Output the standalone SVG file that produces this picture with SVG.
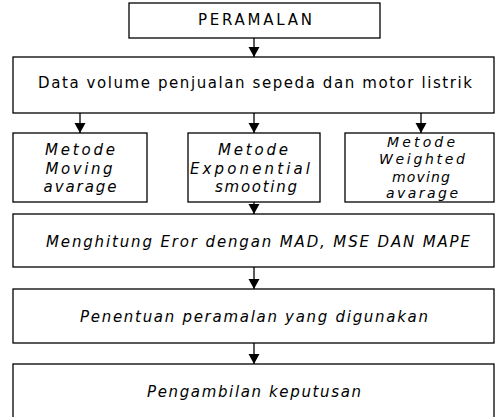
<svg xmlns="http://www.w3.org/2000/svg" width="496" height="417" viewBox="0 0 496 417">
<style>
rect.box{fill:#fff;stroke:#000;stroke-width:1.3}
text{font-family:"DejaVu Sans","Liberation Sans",sans-serif;font-size:15px;fill:#000;text-anchor:middle}
text.i{font-style:italic}
text.s{font-size:14px}
line.c{stroke:#000;stroke-width:1.3;marker-end:url(#ah)}
</style>
<defs>
<marker id="ah" markerUnits="userSpaceOnUse" markerWidth="12" markerHeight="12" refX="10" refY="6" orient="auto">
<path d="M0,0.5 L10,6 L0,11.5 Z" fill="#000"/>
</marker>
</defs>
<rect width="496" height="417" fill="#fff"/>
<g id="connectors">
<line class="c" x1="254" y1="38" x2="254" y2="57"/>
<line class="c" x1="80" y1="113" x2="80" y2="133"/>
<line class="c" x1="254" y1="113" x2="254" y2="133"/>
<line class="c" x1="421" y1="113" x2="421" y2="133"/>
<line class="c" x1="254" y1="202" x2="254" y2="214"/>
<line class="c" x1="254" y1="267" x2="254" y2="289"/>
<line class="c" x1="254" y1="343" x2="254" y2="364"/>
</g>
<g id="peramalan">
<rect class="box" x="129" y="3" width="251" height="35"/>
<text x="255" y="25" textLength="114" lengthAdjust="spacing">PERAMALAN</text>
</g>
<g id="data">
<rect class="box" x="13" y="57" width="481" height="56"/>
<text x="255" y="88" textLength="434" lengthAdjust="spacing">Data volume penjualan sepeda dan motor listrik</text>
</g>
<g id="moving">
<rect class="box" x="13" y="133" width="134" height="69"/>
<text class="i" x="80" y="155" textLength="70" lengthAdjust="spacing">Metode</text>
<text class="i" x="79" y="174" textLength="67" lengthAdjust="spacing">Moving</text>
<text class="i" x="80" y="192" textLength="73" lengthAdjust="spacing">avarage</text>
</g>
<g id="exponential">
<rect class="box" x="188" y="133" width="132" height="69"/>
<text class="i" x="253" y="155" textLength="70" lengthAdjust="spacing">Metode</text>
<text class="i" x="250" y="174" textLength="120" lengthAdjust="spacing">Exponential</text>
<text class="i" x="256" y="192" textLength="82" lengthAdjust="spacing">smooting</text>
</g>
<g id="weighted">
<rect class="box" x="345" y="133" width="149" height="69"/>
<text class="i s" x="421" y="147" textLength="68" lengthAdjust="spacing">Metode</text>
<text class="i s" x="422" y="164" textLength="86" lengthAdjust="spacing">Weighted</text>
<text class="i s" x="421" y="182" textLength="58" lengthAdjust="spacing">moving</text>
<text class="i s" x="422" y="198" textLength="72" lengthAdjust="spacing">avarage</text>
</g>
<g id="error">
<rect class="box" x="13" y="214" width="481" height="53"/>
<text class="i" x="258" y="247" textLength="424" lengthAdjust="spacing">Menghitung Eror dengan MAD, MSE DAN MAPE</text>
</g>
<g id="penentuan">
<rect class="box" x="13" y="289" width="481" height="54"/>
<text class="i" x="254" y="322" textLength="348" lengthAdjust="spacing">Penentuan peramalan yang digunakan</text>
</g>
<g id="pengambilan">
<rect class="box" x="13" y="364" width="481" height="60"/>
<text class="i" x="254" y="397" textLength="214" lengthAdjust="spacing">Pengambilan keputusan</text>
</g>
</svg>
